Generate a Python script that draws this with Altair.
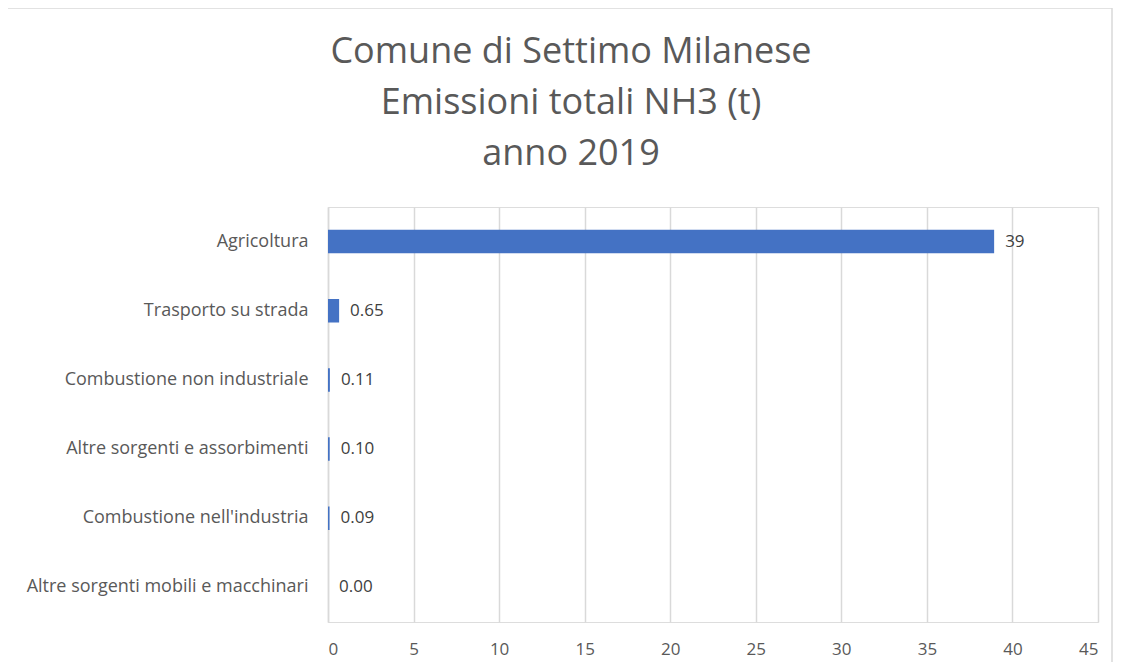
import altair as alt
import pandas as pd

categories = [
    "Agricoltura",
    "Trasporto su strada",
    "Combustione non industriale",
    "Altre sorgenti e assorbimenti",
    "Combustione nell'industria",
    "Altre sorgenti mobili e macchinari",
]
values = [38.93, 0.65, 0.11, 0.10, 0.09, 0.00]
value_labels = ["39", "0.65", "0.11", "0.10", "0.09", "0.00"]
x_ticks = [0, 5, 10, 15, 20, 25, 30, 35, 40, 45]

df = pd.DataFrame({"cat": categories, "val": values, "lab": value_labels})

FONT = "Open Sans"
GREY = "#595959"

y_enc = alt.Y("cat:N", sort=categories, title=None,
              scale=alt.Scale(paddingInner=0.66, paddingOuter=0.33),
              axis=alt.Axis(labelFont=FONT, labelFontSize=18, labelColor=GREY,
                            ticks=False, labelPadding=20, domainColor="#d9d9d9",
                            domainWidth=1.5, labelLimit=400))
x_enc = alt.X("val:Q", title=None,
              scale=alt.Scale(domain=[0, 45], nice=False),
              axis=alt.Axis(values=x_ticks, labelFont=FONT, labelFontSize=17,
                            labelColor=GREY, ticks=False, domain=False,
                            labelPadding=19, gridColor="#d9d9d9", gridWidth=1.5))

bars = alt.Chart(df).mark_bar(color="#4472C4").encode(x=x_enc, y=y_enc)
texts = alt.Chart(df).mark_text(align="left", dx=11, font=FONT, fontSize=17,
                                color="#404040").encode(
    x="val:Q", y=alt.Y("cat:N", sort=categories), text="lab:N")

frame_df = pd.DataFrame({"v": [0]})
left_line = alt.Chart(frame_df).mark_rule(color="#d9d9d9", strokeWidth=1.5).encode(
    x=alt.value(-321), y=alt.value(-199), y2=alt.value(455))
top_line = alt.Chart(frame_df).mark_rule(color="#d9d9d9", strokeWidth=1.5).encode(
    x=alt.value(-321), x2=alt.value(784), y=alt.value(-199))
right_line = alt.Chart(frame_df).mark_rule(color="#d9d9d9", strokeWidth=1.5).encode(
    x=alt.value(784), y=alt.value(-199), y2=alt.value(455))

chart = alt.layer(bars, texts, left_line, top_line, right_line).properties(
    width=770, height=415,
    autosize=alt.AutoSizeParams(type="none"),
    padding={"left": 320, "top": 199, "right": 16, "bottom": 40},
    title=alt.Title(
        ["Comune di Settimo Milanese", "Emissioni totali NH3 (t)", "anno 2019"],
        font=FONT, fontSize=36, fontWeight="normal", color=GREY,
        anchor="middle", dx=-142, offset=-194, lineHeight=51,
        baseline="alphabetic"),
).configure_view(stroke=None).configure(background="white")

chart.save("out.html", embed_options={"renderer": "svg", "actions": False})
